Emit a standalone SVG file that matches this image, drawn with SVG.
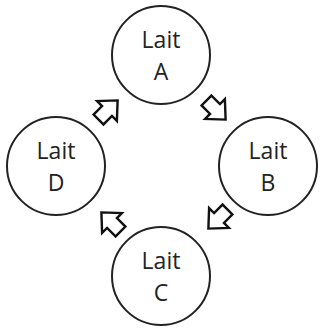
<svg xmlns="http://www.w3.org/2000/svg" width="323" height="329" viewBox="0 0 323 329">
<defs>
<style>
.n{fill:#fff;stroke:#222;stroke-width:2}
.t{font-family:"Open Sans","Liberation Sans",Arial,sans-serif;font-size:23px;fill:#222;text-anchor:middle}
.a{fill:#fff;stroke:#111;stroke-width:2.4;stroke-linejoin:miter}
</style>
<polygon id="arr" points="-12,-7 0,-7 0,-14 15,0 0,14 0,7 -12,7"/>
</defs>
<rect width="323" height="329" fill="#fff"/>
<g id="A"><circle class="n" cx="161" cy="55" r="49"/><text class="t" x="161" y="48">Lait</text><text class="t" x="161" y="80">A</text></g>
<g id="B"><circle class="n" cx="268" cy="166" r="49"/><text class="t" x="268" y="159">Lait</text><text class="t" x="268" y="191">B</text></g>
<g id="C"><circle class="n" cx="161" cy="276" r="49"/><text class="t" x="161" y="269">Lait</text><text class="t" x="161" y="301">C</text></g>
<g id="D"><circle class="n" cx="56" cy="166" r="49"/><text class="t" x="56" y="159">Lait</text><text class="t" x="56" y="191">D</text></g>
<g id="connectors">
<use href="#arr" class="a" transform="translate(107,111) rotate(-45)"/>
<use href="#arr" class="a" transform="translate(215,109) rotate(45)"/>
<use href="#arr" class="a" transform="translate(219,218) rotate(135)"/>
<use href="#arr" class="a" transform="translate(112,223) rotate(-135)"/>
</g>
</svg>
